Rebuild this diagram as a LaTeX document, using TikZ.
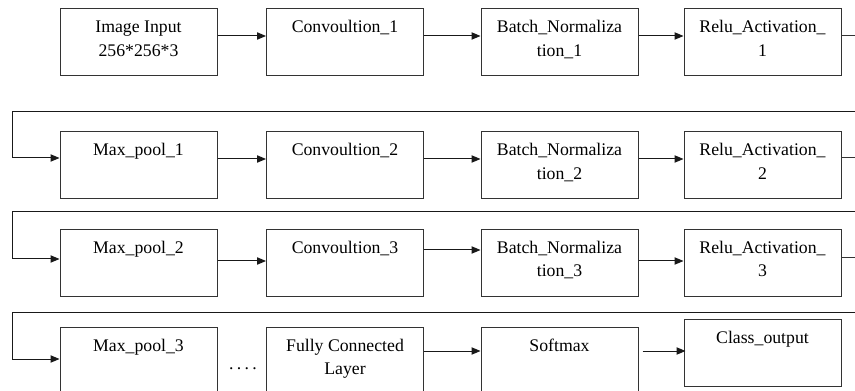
\documentclass[tikz,border=0pt]{standalone}
\usepackage{fontspec}
\setmainfont{Liberation Serif}
\usetikzlibrary{arrows.meta,calc}
\newcommand{\bxtext}[1]{\parbox[c][50.25pt][t]{117pt}{\centering\rule{0pt}{18pt}#1}}
\begin{document}
\begin{tikzpicture}[x=0.75pt,y=-0.75pt,
  box/.style={draw=black!80, line width=0.75pt, inner sep=0pt, minimum width=117.75pt, minimum height=50.25pt, font=\fontsize{13.3}{17.6}\selectfont},
  arr/.style={-{Triangle[length=6.75pt,width=5.5pt]}, line width=0.75pt, draw=black!90},
  ln/.style={line width=0.75pt, draw=black!80}]
\clip (0,0) rectangle (855,391);
% row 1
\node[box] (in1)   at (138.5,42.5) {\bxtext{Image Input\\256*256*3}};
\node[box] (conv1) at (345,42.5)   {\bxtext{Convoultion\_1}};
\node[box] (bn1)   at (559.5,42.5) {\bxtext{Batch\_Normaliza\\tion\_1}};
\node[box] (relu1) at (762.5,42.5) {\bxtext{Relu\_Activation\_\\1}};
% row 2
\node[box] (mp1)   at (138.5,165.5) {\bxtext{Max\_pool\_1}};
\node[box] (conv2) at (345,165.5)   {\bxtext{Convoultion\_2}};
\node[box] (bn2)   at (559.5,165.5) {\bxtext{Batch\_Normaliza\\tion\_2}};
\node[box] (relu2) at (762.5,165.5) {\bxtext{Relu\_Activation\_\\2}};
% row 3
\node[box] (mp2)   at (138.5,263) {\bxtext{Max\_pool\_2}};
\node[box] (conv3) at (345,263)   {\bxtext{Convoultion\_3}};
\node[box] (bn3)   at (559.5,263) {\bxtext{Batch\_Normaliza\\tion\_3}};
\node[box] (relu3) at (762.5,263) {\bxtext{Relu\_Activation\_\\3}};
% row 4
\node[box] (mp3)   at (138.5,360.5) {\bxtext{Max\_pool\_3}};
\node[box] (fc)    at (345,360.5)   {\bxtext{Fully Connected\\Layer}};
\node[box] (soft)  at (559.5,360.5) {\bxtext{Softmax}};
\node[box] (cls)   at (762.5,353)   {\bxtext{Class\_output}};
\node[font=\fontsize{13.3}{17.6}\selectfont, anchor=base, inner sep=0pt] (dots) at (243,369) {.\kern2.5pt.\kern2.5pt.\kern2.5pt.};
% coordinates for free ends
\coordinate (r1out) at (860,36);
\coordinate (fb2R) at (860,112);
\coordinate (fb2L) at (12,112);
\coordinate (fb3R) at (860,212);
\coordinate (fb3L) at (12,212);
\coordinate (fb4R) at (860,312);
\coordinate (fb4L) at (12,312);
% row 1 connectors
\draw[arr] ($(in1.east)+(0,-6.5)$) -- ($(conv1.west)+(0,-6.5)$);
\draw[arr] ($(conv1.east)+(0,-6.5)$) -- ($(bn1.west)+(0,-6.5)$);
\draw[arr] ($(bn1.east)+(0,-6.5)$) -- ($(relu1.west)+(0,-6.5)$);
\draw[ln] ($(relu1.east)+(0,-6.5)$) -- (r1out);
% row 2
\draw[arr] (fb2R) -- (fb2L) |- ($(mp1.west)+(0,-7.5)$);
\draw[arr] ($(mp1.east)+(0,-6.5)$) -- ($(conv2.west)+(0,-6.5)$);
\draw[arr] ($(conv2.east)+(0,-6.5)$) -- ($(bn2.west)+(0,-6.5)$);
\draw[arr] ($(bn2.east)+(0,-6.5)$) -- ($(relu2.west)+(0,-6.5)$);
\draw[ln] ($(relu2.east)+(0,-7.5)$) -- (fb2R |- 0,158);
% row 3
\draw[arr] (fb3R) -- (fb3L) |- ($(mp2.west)+(0,-4)$);
\draw[arr] ($(mp2.east)+(0,-2)$) -- ($(conv3.west)+(0,-2)$);
\draw[arr] ($(conv3.east)+(0,-13)$) -- ($(bn3.west)+(0,-13)$);
\draw[arr] ($(bn3.east)+(0,-2)$) -- ($(relu3.west)+(0,-2)$);
\draw[ln] ($(relu3.east)+(0,-5)$) -- (fb3R |- 0,258);
% row 4
\draw[arr] (fb4R) -- (fb4L) |- ($(mp3.west)+(0,-1.5)$);
\draw[arr] ($(fc.east)+(0,-9.5)$) -- ($(soft.west)+(0,-9.5)$);
\draw[arr] ($(soft.east)+(4,-9.5)$) -- ($(cls.west)+(2,-2)$);
\end{tikzpicture}
\end{document}
